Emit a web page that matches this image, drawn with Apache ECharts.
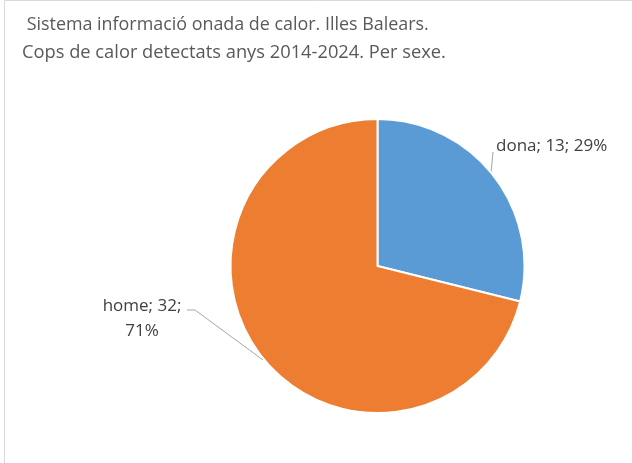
<!DOCTYPE html>
<html>
<head>
<meta charset="utf-8">
<script src="https://cdn.jsdelivr.net/npm/echarts@6/dist/echarts.min.js"></script>
<style>
html,body{margin:0;padding:0;background:#fff;}
#chart{width:632px;height:463px;}
</style>
</head>
<body>
<div id="chart"></div>
<script>
const categories = ['dona', 'home'];
const values = [13, 32];
const titleLine1 = ' Sistema informació onada de calor. Illes Balears.';
const titleLine2 = 'Cops de calor detectats anys 2014-2024. Per sexe.';
const colors = ['#5B9BD5', '#ED7D31'];

const total = values.reduce((a, b) => a + b, 0);
const chart = echarts.init(document.getElementById('chart'));
chart.setOption({
  backgroundColor: '#fff',
  animation: false,
  graphic: [{
    type: 'rect',
    shape: { x: 4.5, y: 0.5, width: 700, height: 600 },
    style: { fill: 'none', stroke: '#d9d9d9', lineWidth: 1 },
    silent: true
  }],
  title: {
    text: '{a|' + titleLine1 + '}\n{b|' + titleLine2 + '}',
    left: 17, top: 6,
    textStyle: {
      fontFamily: 'Open Sans', fontWeight: 'normal', color: '#595959',
      rich: {
        a: { fontFamily: 'Open Sans', fontSize: 17.9, color: '#595959', lineHeight: 28 },
        b: { fontFamily: 'Open Sans', fontSize: 18.3, color: '#595959', lineHeight: 28 }
      }
    }
  },
  series: [{
    type: 'pie',
    center: [377.5, 266],
    radius: 147,
    startAngle: 90,
    clockwise: true,
    itemStyle: { borderColor: '#fff', borderWidth: 2 },
    label: {
      show: true, overflow: 'none',
      fontFamily: 'Open Sans', fontSize: 17, color: '#404040', lineHeight: 25,
      formatter: p => p.dataIndex === 1
        ? p.name + '; ' + p.value + ';\n' + Math.round(p.value / total * 100) + '%'
        : p.name + '; ' + p.value + '; ' + Math.round(p.value / total * 100) + '%'
    },
    labelLine: { show: true, lineStyle: { color: '#a6a6a6', width: 1 } },
    labelLayout: function (p) {
      if (p.dataIndex === 0) {
        return { x: 496, y: 146, align: 'left', verticalAlign: 'middle', width: 200,
          labelLinePoints: [[491, 173], [493, 152], [493, 152]] };
      }
      return { x: 142, y: 319, align: 'center', verticalAlign: 'middle',
        labelLinePoints: [[263, 360], [195, 310], [187, 310]] };
    },
    data: categories.map((c, i) => ({ name: c, value: values[i], itemStyle: { color: colors[i] } }))
  }]
});
</script>
</body>
</html>
